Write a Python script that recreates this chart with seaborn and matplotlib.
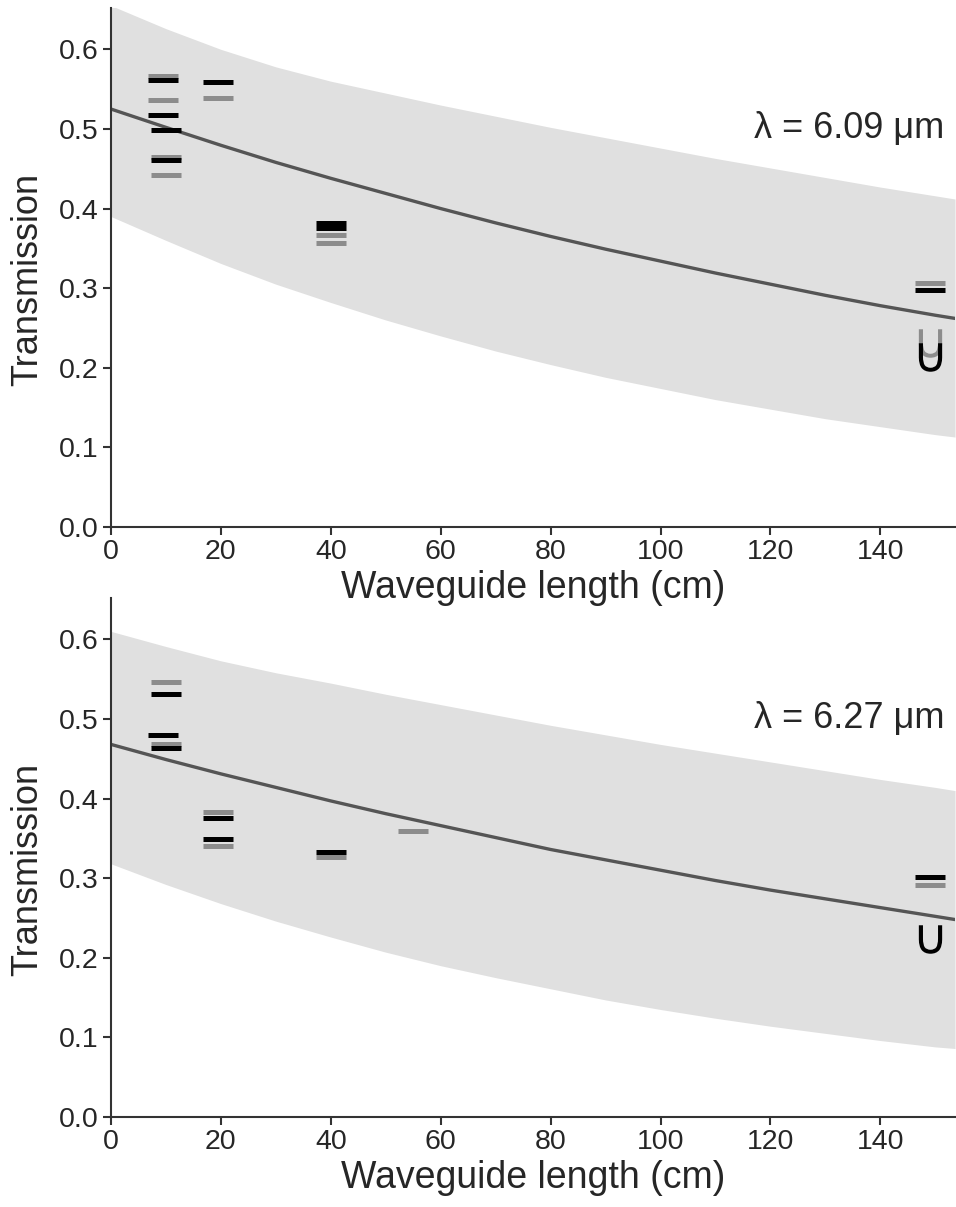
import numpy as np
import pandas as pd
import matplotlib
matplotlib.use('Agg')
import matplotlib.pyplot as plt
import seaborn as sns

sns.set_style('ticks')
plt.rcParams['font.family'] = ['Liberation Sans', 'DejaVu Sans']
plt.rcParams['mathtext.fontset'] = 'dejavusans'

# fit curve and band (cm, transmission)
fit_len = [0, 10, 20, 30, 40, 50, 60, 70, 80, 90, 100, 110, 120, 130, 140, 150, 153.6]

top_fit = [0.525, 0.502, 0.4795, 0.458, 0.438, 0.419, 0.400, 0.382, 0.365,
           0.349, 0.334, 0.319, 0.305, 0.291, 0.278, 0.266, 0.262]
top_upper = [0.655, 0.626, 0.600, 0.578, 0.560, 0.545, 0.530, 0.516, 0.502,
             0.489, 0.476, 0.463, 0.451, 0.439, 0.427, 0.416, 0.412]
top_lower = [0.390, 0.360, 0.331, 0.305, 0.282, 0.260, 0.240, 0.221, 0.204,
             0.188, 0.174, 0.160, 0.148, 0.136, 0.126, 0.116, 0.113]

bot_fit = [0.468, 0.449, 0.431, 0.414, 0.397, 0.381, 0.366, 0.351, 0.336,
           0.323, 0.310, 0.297, 0.285, 0.274, 0.263, 0.252, 0.248]
bot_upper = [0.610, 0.591, 0.573, 0.558, 0.545, 0.531, 0.518, 0.505, 0.492,
             0.480, 0.468, 0.457, 0.446, 0.435, 0.424, 0.414, 0.410]
bot_lower = [0.318, 0.292, 0.268, 0.246, 0.226, 0.207, 0.190, 0.175, 0.161,
             0.147, 0.135, 0.124, 0.114, 0.105, 0.096, 0.088, 0.086]

# measured points (dashes)
top_gray_len = [9.5, 9.5, 10, 10, 19.5, 40, 40, 149]
top_gray_T = [0.567, 0.537, 0.465, 0.442, 0.539, 0.367, 0.357, 0.307]
top_black_len = [9.5, 9.5, 10, 10, 19.5, 40, 40, 149]
top_black_T = [0.561, 0.517, 0.499, 0.461, 0.5585, 0.382, 0.375, 0.298]
top_gray_lim_len = [149]
top_gray_lim_T = [0.231]
top_black_lim_len = [149]
top_black_lim_T = [0.214]

bot_gray_len = [10, 10, 19.5, 19.5, 40, 55, 149]
bot_gray_T = [0.546, 0.468, 0.3836, 0.340, 0.3265, 0.359, 0.291]
bot_black_len = [10, 9.5, 10, 19.5, 19.5, 40, 149]
bot_black_T = [0.531, 0.480, 0.4637, 0.3757, 0.349, 0.333, 0.301]
bot_gray_lim_len = []
bot_gray_lim_T = []
bot_black_lim_len = [149]
bot_black_lim_T = [0.223]

wavelengths = ['6.09', '6.27']

GRAY = '#8c8c8c'
BLACK = '#000000'
BAND = '#e0e0e0'
LINE = '#555555'
SPINE = '#333333'

fig = plt.figure(figsize=(9.56, 12.07), dpi=100)
ax1 = fig.add_axes([0.1161, 0.5634, 0.8829, 0.4300])
ax2 = fig.add_axes([0.1161, 0.0746, 0.8829, 0.4300])

panels = [
    (ax1, top_fit, top_upper, top_lower,
     (top_gray_len, top_gray_T), (top_black_len, top_black_T),
     (top_gray_lim_len, top_gray_lim_T), (top_black_lim_len, top_black_lim_T)),
    (ax2, bot_fit, bot_upper, bot_lower,
     (bot_gray_len, bot_gray_T), (bot_black_len, bot_black_T),
     (bot_gray_lim_len, bot_gray_lim_T), (bot_black_lim_len, bot_black_lim_T)),
]

for i, (ax, fit, up, lo, gray, black, glim, blim) in enumerate(panels):
    ax.fill_between(fit_len, lo, up, color=BAND, linewidth=0, zorder=0)
    sns.lineplot(x=fit_len, y=fit, ax=ax, color=LINE, linewidth=2.4, zorder=2)

    for (xs, ys), c in [(gray, GRAY), (black, BLACK)]:
        sns.scatterplot(x=xs, y=ys, ax=ax, marker='_', s=440, color=c,
                        linewidth=3.6, zorder=3)
    for (xs, ys), c in [(glim, GRAY), (blim, BLACK)]:
        if len(xs):
            sns.scatterplot(x=xs, y=ys, ax=ax, marker=r'$\cup$', s=420,
                            color=c, edgecolor=c, linewidth=0, zorder=4)

    ax.text(151.6, 0.5, '\u03bb = ' + wavelengths[i] + ' \u03bcm', ha='right',
            va='center', fontsize=26)

    ax.set_xlim(0, 153.6)
    ax.set_ylim(0, 0.652)
    ax.set_xticks(np.arange(0, 141, 20))
    ax.set_yticks(np.arange(0, 0.61, 0.1))
    ax.set_yticklabels(['%.1f' % v for v in np.arange(0, 0.61, 0.1)])
    ax.tick_params(labelsize=20.5, length=6, width=1.5, color=SPINE, pad=3)
    ax.set_xlabel('Waveguide length (cm)', fontsize=27, labelpad=3)
    ax.set_ylabel('Transmission', fontsize=26, labelpad=8)
    ax.yaxis.set_label_coords(-0.078, 0.477)
    for s in ['top', 'right']:
        ax.spines[s].set_visible(False)
    for s in ['left', 'bottom']:
        ax.spines[s].set_linewidth(1.5)
        ax.spines[s].set_color(SPINE)
    ax.set_facecolor('none')

fig.savefig('out.png', dpi=100)
